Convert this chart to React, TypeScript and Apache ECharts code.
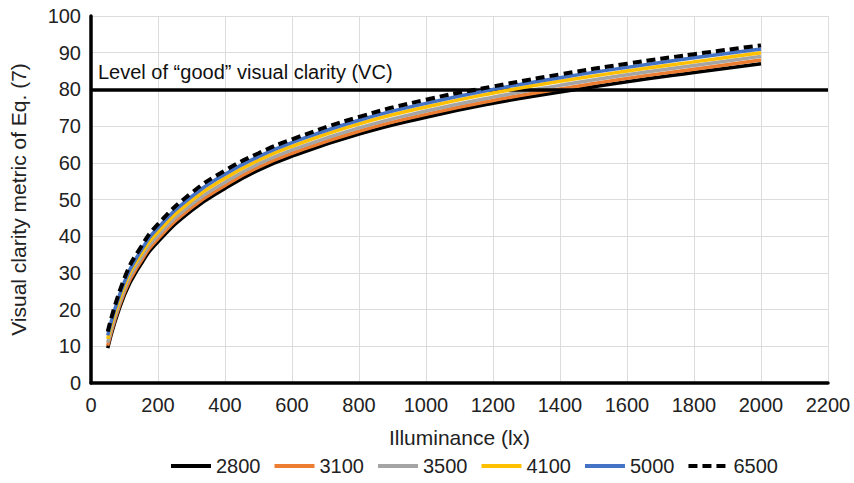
import React, { useEffect, useRef } from "react";
import * as echarts from "echarts";

const illuminance = [50, 100, 150, 200, 300, 400, 500, 600, 800, 1000, 1200, 1400, 1600, 1800, 2000];
const s2800 = [9.5, 24, 32.5, 38.5, 47, 53, 58, 61.8, 67.8, 72.4, 76.2, 79.3, 82.1, 84.6, 87];
const s3100 = [10.2, 24.8, 33.3, 39.3, 47.8, 53.8, 58.8, 62.6, 68.6, 73.2, 77, 80.1, 83, 85.5, 88];
const s3500 = [11, 25.6, 34.2, 40.2, 48.7, 54.7, 59.7, 63.5, 69.5, 74.1, 77.9, 81.1, 84, 86.5, 89];
const s4100 = [12, 26.6, 35.2, 41.2, 49.7, 55.8, 60.7, 64.5, 70.6, 75.2, 79, 82.2, 85, 87.5, 90];
const s5000 = [13, 27.6, 36.2, 42.3, 50.8, 56.9, 61.7, 65.5, 71.6, 76.2, 80, 83.2, 86, 88.6, 91];
const s6500 = [14, 28.6, 37.2, 43.3, 51.8, 57.9, 62.6, 66.4, 72.5, 77.2, 80.8, 84.1, 87, 89.6, 92];

const seriesNames = ["2800", "3100", "3500", "4100", "5000", "6500"];
const seriesData = [s2800, s3100, s3500, s4100, s5000, s6500];
const seriesColors = ["#000000", "#ED7D31", "#A5A5A5", "#FFC000", "#4472C4", "#000000"];
const vcLevel = 80;
const vcLabel = "Level of \u201cgood\u201d visual clarity (VC)";

const FONT = "Liberation Sans, Arial, sans-serif";

export default function App() {
  const ref = useRef<HTMLDivElement>(null);
  useEffect(() => {
    if (!ref.current) return;
    const chart = echarts.init(ref.current, null, { renderer: "svg" });
    const series: any[] = seriesNames.map((name, i) => ({
      name,
      type: "line",
      smooth: true,
      symbol: "none",
      data: illuminance.map((x, j) => [x, seriesData[i][j]]),
      lineStyle: {
        color: seriesColors[i],
        width: i === 5 ? 4 : 3.5,
        type: i === 5 ? [9, 5] : "solid",
      },
      itemStyle: { color: seriesColors[i] },
      z: 2 + i,
    }));
    series[0].markLine = {
      silent: true,
      symbol: "none",
      lineStyle: { color: "#000", width: 3.5, type: "solid" },
      label: {
        show: true,
        position: "insideStartTop",
        formatter: vcLabel,
        color: "#111",
        fontSize: 20,
        fontFamily: FONT,
        distance: [7, 7],
      },
      data: [{ yAxis: vcLevel }],
    };
    chart.setOption({
      animation: false,
      textStyle: { fontFamily: FONT },
      grid: { left: 90, right: 26, top: 16, bottom: 100, containLabel: false },
      legend: {
        bottom: 2,
        left: 164,
        itemWidth: 40,
        itemHeight: 4,
        itemGap: 12,
        itemStyle: { opacity: 0 },
        lineStyle: { width: 4 },
        textStyle: { fontSize: 20, color: "#222", fontFamily: FONT },
        data: seriesNames,
      },
      xAxis: {
        type: "value",
        min: 0,
        max: 2200,
        interval: 200,
        name: "Illuminance (lx)",
        nameLocation: "middle",
        nameGap: 44,
        nameTextStyle: { fontSize: 21, color: "#222", fontFamily: FONT },
        axisLine: { show: true, lineStyle: { color: "#000", width: 3.5 } },
        axisTick: { show: false },
        axisLabel: {
          fontSize: 20,
          color: "#222",
          margin: 12,
          fontFamily: FONT,
          formatter: (v: number) => String(v),
        },
        splitLine: { show: true, lineStyle: { color: "#dcdcdc", width: 1 } },
      },
      yAxis: {
        type: "value",
        min: 0,
        max: 100,
        interval: 10,
        name: "Visual clarity metric of Eq. (7)",
        nameLocation: "middle",
        nameGap: 62,
        nameTextStyle: { fontSize: 21, color: "#222", fontFamily: FONT },
        axisLine: { show: true, lineStyle: { color: "#000", width: 3.5 } },
        axisTick: { show: false },
        axisLabel: { fontSize: 20, color: "#222", margin: 10, fontFamily: FONT },
        splitLine: { show: true, lineStyle: { color: "#dcdcdc", width: 1 } },
      },
      series,
    });
    return () => chart.dispose();
  }, []);
  return <div ref={ref} style={{ width: 854, height: 483, position: "absolute", left: 0, top: 0 }} />;
}
